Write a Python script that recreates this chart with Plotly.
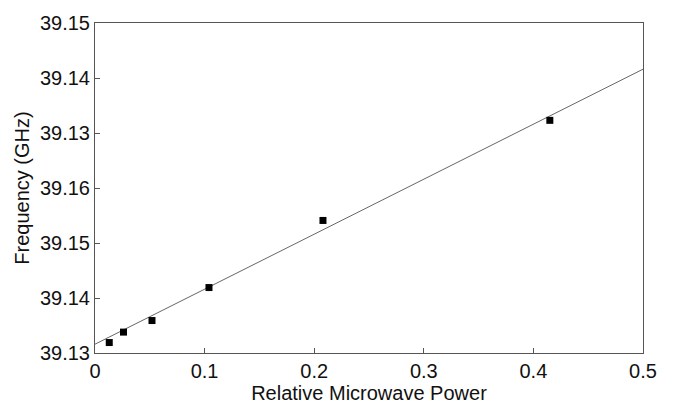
import plotly.graph_objects as go

power = [0.013, 0.026, 0.052, 0.104, 0.208, 0.415]
freq = [39.1319, 39.1338, 39.1359, 39.1419, 39.1541, 39.1723]
fit_x = [0.0, 0.5]
fit_y = [39.1316, 39.1816]
ytick_vals = [39.13, 39.14, 39.15, 39.16, 39.17, 39.18, 39.19]
ytick_text = ["39.13", "39.14", "39.15", "39.16", "39.13", "39.14", "39.15"]
xtick_vals = [0, 0.1, 0.2, 0.3, 0.4, 0.5]
xtick_text = ["0", "0.1", "0.2", "0.3", "0.4", "0.5"]

fig = go.Figure()
fig.add_trace(go.Scatter(x=fit_x, y=fit_y, mode="lines",
                         line=dict(color="#666666", width=1), showlegend=False))
fig.add_trace(go.Scatter(x=power, y=freq, mode="markers",
                         marker=dict(symbol="square", size=7, color="black"),
                         showlegend=False))

fam = "Liberation Sans, Arial, sans-serif"
tickfont = dict(family=fam, size=20, color="#111111")
titlefont = dict(family=fam, size=20, color="#111111")
fig.update_layout(
    width=681, height=409,
    margin=dict(l=95, r=38, t=14, b=52),
    paper_bgcolor="white", plot_bgcolor="white",
    font=dict(family=fam, size=17, color="#111111"),
    xaxis=dict(range=[0, 0.5], tickvals=xtick_vals, ticktext=xtick_text,
               tickfont=tickfont,
               ticks="inside", ticklen=5, tickcolor="#555555",
               showline=True, linecolor="#555555", linewidth=1, mirror=True,
               showgrid=False, zeroline=False,
               title=dict(text="Relative Microwave Power", font=titlefont, standoff=1)),
    yaxis=dict(range=[39.13, 39.19], tickvals=ytick_vals, ticktext=ytick_text,
               tickfont=tickfont,
               ticks="inside", ticklen=5, tickcolor="#555555",
               showline=True, linecolor="#555555", linewidth=1, mirror=True,
               showgrid=False, zeroline=False,
               title=dict(text="Frequency (GHz)", font=titlefont, standoff=4)),
)
fig.write_html("out.html")
